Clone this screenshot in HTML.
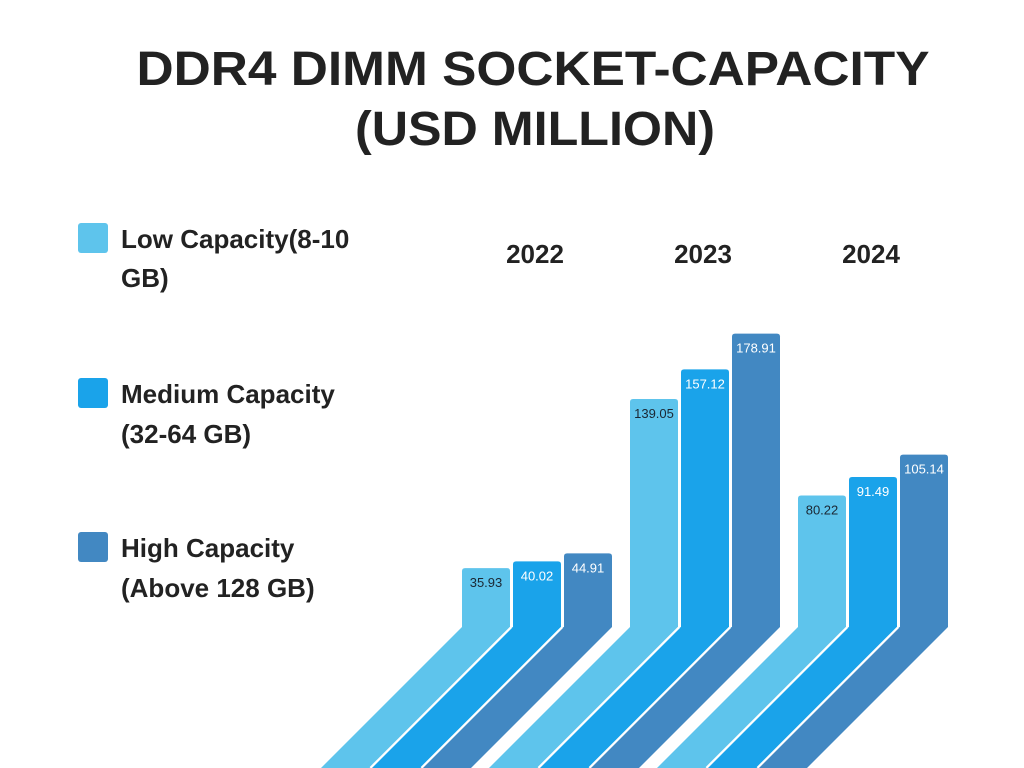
<!DOCTYPE html>
<html><head><meta charset="utf-8"><style>
html,body{margin:0;padding:0;background:#fff;width:1024px;height:768px;overflow:hidden;}
svg{display:block;font-family:"Liberation Sans",sans-serif;overflow:hidden;}
</style></head><body>
<svg id="chart" width="1024" height="768" viewBox="0 0 1024 768">
<defs><clipPath id="frame"><rect x="0" y="0" width="1024" height="768"/></clipPath></defs>
<text x="533" y="85" text-anchor="middle" font-size="48" font-weight="bold" fill="#222" textLength="793" lengthAdjust="spacingAndGlyphs">DDR4 DIMM SOCKET-CAPACITY</text>
<text x="535" y="145" text-anchor="middle" font-size="48" font-weight="bold" fill="#222" textLength="360" lengthAdjust="spacingAndGlyphs">(USD MILLION)</text>
<g>
<rect x="78" y="223" width="30" height="30" rx="3" fill="#5EC4EC"/>
<text x="121" y="248" font-size="26" font-weight="bold" fill="#222">Low Capacity(8-10</text>
<text x="121" y="287" font-size="26" font-weight="bold" fill="#222">GB)</text>
<rect x="78" y="378" width="30" height="30" rx="3" fill="#1AA3EA"/>
<text x="121" y="403" font-size="26" font-weight="bold" fill="#222">Medium Capacity</text>
<text x="121" y="443" font-size="26" font-weight="bold" fill="#222">(32-64 GB)</text>
<rect x="78" y="532" width="30" height="30" rx="3" fill="#4288C2"/>
<text x="121" y="557" font-size="26" font-weight="bold" fill="#222">High Capacity</text>
<text x="121" y="597" font-size="26" font-weight="bold" fill="#222">(Above 128 GB)</text>
</g>
<g id="plot" clip-path="url(#frame)"></g>
</svg>
<script>
const years = ["2022","2023","2024"];
const lowValues = [35.93, 139.05, 80.22];
const mediumValues = [40.02, 157.12, 91.49];
const highValues = [44.91, 178.91, 105.14];
const NS="http://www.w3.org/2000/svg";
const plot=document.getElementById('plot');
const baseY=627, scale=1.64, barW=48, barStep=51, groupStep=168, x0=462;
const colors=["#5EC4EC","#1AA3EA","#4288C2"];
const labelColors=["#1b2733","#fff","#fff"];
const seriesNames=["low","medium","high"];
const series=[lowValues,mediumValues,highValues];
function yScale(v){return baseY-v*scale;}
function xPos(g,s){return x0+g*groupStep+s*barStep;}
function el(tag,attrs){const e=document.createElementNS(NS,tag);for(const k in attrs)e.setAttribute(k,attrs[k]);plot.appendChild(e);return e;}
for(let g=0;g<years.length;g++){
  for(let s=0;s<3;s++){
    const x=xPos(g,s), d=141, w=(s<2)?barW+3:barW;
    const p=el('polygon',{points:`${x},${baseY} ${x+w},${baseY} ${x+w-d},${baseY+d} ${x-d},${baseY+d}`,fill:colors[s]});
    
    
    if(s<2){
      const l=el('line',{x1:x+barW+1.5,y1:baseY,x2:x+barW+1.5-d,y2:baseY+d,stroke:'#fff','stroke-width':2.5});
      
      
    }
  }
}
for(let g=0;g<years.length;g++){
  const t=el('text',{x:xPos(g,1)+barW/2-2,y:263,'text-anchor':'middle','font-size':26,'font-weight':'bold',fill:'#222'});
  t.textContent=years[g];
  
  
  for(let s=0;s<3;s++){
    const v=series[s][g], x=xPos(g,s), y=yScale(v);
    const r=el('path',{d:`M${x},${baseY} V${y+3} Q${x},${y} ${x+3},${y} H${x+barW-3} Q${x+barW},${y} ${x+barW},${y+3} V${baseY} Z`,fill:colors[s]});
    
    
    const lt=el('text',{x:x+barW/2,y:y+19,'text-anchor':'middle','font-size':13,fill:labelColors[s]});
    lt.textContent=v.toFixed(2);
    
    
  }
}
</script>
</body></html>
